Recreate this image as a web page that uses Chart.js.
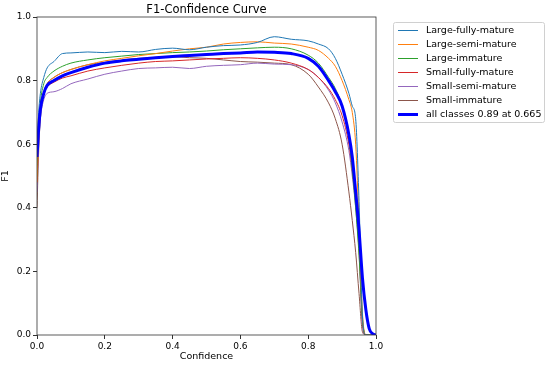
<!DOCTYPE html>
<html>
<head>
<meta charset="utf-8">
<script src="https://cdn.jsdelivr.net/npm/chart.js@4"></script>
<style>
  html, body { margin: 0; padding: 0; background: #fff; }
  #wrap { width: 550px; height: 366px; }
</style>
</head>
<body>
<div id="wrap"><canvas id="f1Chart" width="550" height="366"></canvas></div>
<script>
const confidence = [0, 0.005, 0.01, 0.02, 0.03, 0.05, 0.075, 0.1, 0.15, 0.2, 0.25, 0.3, 0.35, 0.4, 0.45, 0.5, 0.55, 0.6, 0.65, 0.7, 0.75, 0.8, 0.83, 0.86, 0.88, 0.9, 0.92, 0.93, 0.94, 0.95, 0.96, 0.97, 0.98, 0.99, 1.0];

const largeFullyMature = [0.58, 0.70, 0.76, 0.81, 0.84, 0.86, 0.885, 0.887, 0.89, 0.888, 0.892, 0.89, 0.898, 0.902, 0.897, 0.905, 0.91, 0.912, 0.92, 0.938, 0.93, 0.925, 0.915, 0.9, 0.87, 0.82, 0.76, 0.72, 0.68, 0.42, 0.06, 0, 0, 0, 0];
const largeSemiMature = [0.48, 0.62, 0.70, 0.76, 0.79, 0.81, 0.825, 0.835, 0.85, 0.862, 0.87, 0.878, 0.885, 0.893, 0.9, 0.905, 0.915, 0.92, 0.922, 0.918, 0.915, 0.905, 0.895, 0.87, 0.845, 0.8, 0.74, 0.70, 0.60, 0.35, 0.07, 0, 0, 0, 0];
const largeImmature = [0.50, 0.65, 0.73, 0.79, 0.81, 0.83, 0.845, 0.855, 0.865, 0.872, 0.877, 0.882, 0.885, 0.888, 0.89, 0.893, 0.897, 0.9, 0.903, 0.905, 0.9, 0.88, 0.855, 0.81, 0.775, 0.72, 0.62, 0.52, 0.40, 0.25, 0.05, 0, 0, 0, 0];
const smallFullyMature = [0.48, 0.62, 0.70, 0.76, 0.78, 0.795, 0.808, 0.815, 0.83, 0.84, 0.848, 0.855, 0.86, 0.862, 0.865, 0.868, 0.87, 0.872, 0.87, 0.865, 0.855, 0.835, 0.81, 0.775, 0.74, 0.69, 0.60, 0.52, 0.42, 0.28, 0.04, 0, 0, 0, 0];
const smallSemiMature = [0.45, 0.60, 0.68, 0.74, 0.76, 0.765, 0.775, 0.79, 0.805, 0.82, 0.83, 0.838, 0.84, 0.842, 0.838, 0.845, 0.848, 0.85, 0.855, 0.852, 0.85, 0.835, 0.81, 0.77, 0.73, 0.67, 0.58, 0.50, 0.40, 0.26, 0.03, 0, 0, 0, 0];
const smallImmature = [0.40, 0.58, 0.68, 0.76, 0.79, 0.81, 0.825, 0.835, 0.85, 0.857, 0.865, 0.87, 0.873, 0.875, 0.872, 0.87, 0.865, 0.86, 0.858, 0.855, 0.85, 0.82, 0.78, 0.73, 0.68, 0.60, 0.45, 0.36, 0.26, 0.13, 0.01, 0, 0, 0, 0];
const allClasses = [0.56, 0.65, 0.71, 0.76, 0.785, 0.80, 0.815, 0.825, 0.842, 0.855, 0.862, 0.867, 0.872, 0.876, 0.879, 0.882, 0.885, 0.887, 0.89, 0.889, 0.885, 0.87, 0.845, 0.80, 0.765, 0.72, 0.63, 0.56, 0.45, 0.33, 0.18, 0.08, 0.02, 0.004, 0];

const seriesNames = ['Large-fully-mature', 'Large-semi-mature', 'Large-immature', 'Small-fully-mature', 'Small-semi-mature', 'Small-immature', 'all classes 0.89 at 0.665'];
const seriesValues = [largeFullyMature, largeSemiMature, largeImmature, smallFullyMature, smallSemiMature, smallImmature, allClasses];
const seriesColors = ['#1f77b4', '#ff7f0e', '#2ca02c', '#d62728', '#9467bd', '#8c564b', '#0000ff'];
const xTicks = [0, 0.2, 0.4, 0.6, 0.8, 1.0];
const yTicks = [0, 0.2, 0.4, 0.6, 0.8, 1.0];

const FONT = '"DejaVu Sans", sans-serif';

function points(values){
  return values.map((v, i) => ({ x: confidence[i], y: v }));
}

const datasets = seriesValues.map((vals, i) => ({
  label: seriesNames[i],
  data: points(vals),
  borderColor: seriesColors[i],
  borderWidth: i === 6 ? 3 : 1,
  pointRadius: 0,
  cubicInterpolationMode: 'monotone',
  fill: false,
  order: i === 6 ? 0 : 1
}));

// frame, title and legend drawn like matplotlib
const decor = {
  id: 'decor',
  afterDraw(chart){
    const ctx = chart.ctx;
    const a = chart.chartArea;
    ctx.save();
    ctx.strokeStyle = '#333';
    ctx.lineWidth = 0.8;
    ctx.strokeRect(a.left, a.top, a.right - a.left, a.bottom - a.top);

    ctx.fillStyle = '#000';
    ctx.font = '11.5px ' + FONT;
    ctx.textAlign = 'center';
    ctx.textBaseline = 'alphabetic';
    ctx.fillText('F1-Confidence Curve', (a.left + a.right) / 2, 13);

    // legend
    const lx = 393.5, ly = 22.5, lw = 151, lh = 100;
    ctx.strokeStyle = '#d0d0d0';
    ctx.lineWidth = 1;
    ctx.beginPath();
    ctx.roundRect(lx, ly, lw, lh, 2);
    ctx.stroke();
    ctx.font = '9.5px ' + FONT;
    ctx.textAlign = 'left';
    ctx.textBaseline = 'middle';
    chart.data.datasets.forEach((ds, i) => {
      const y = 30.5 + i * 14;
      ctx.strokeStyle = ds.borderColor;
      ctx.lineWidth = ds.borderWidth;
      ctx.beginPath();
      ctx.moveTo(398, y);
      ctx.lineTo(418, y);
      ctx.stroke();
      ctx.fillStyle = '#000';
      ctx.fillText(ds.label, 426, y + 0.5);
    });
    ctx.restore();
  }
};

new Chart(document.getElementById('f1Chart'), {
  type: 'line',
  data: { datasets: datasets },
  options: {
    responsive: false,
    animation: false,
    layout: { padding: { top: 17, right: 174, left: 0, bottom: 0 } },
    plugins: {
      legend: { display: false },
      tooltip: { enabled: false }
    },
    scales: {
      x: {
        type: 'linear',
        min: 0,
        max: 1,
        afterFit(scale){ scale.height = 31; },
        afterBuildTicks(scale){ scale.ticks = xTicks.map(v => ({ value: v })); },
        grid: { drawOnChartArea: false, tickLength: 4, tickColor: '#333' },
        border: { display: false },
        ticks: {
          color: '#000',
          padding: 2,
          maxRotation: 0,
          font: { family: FONT, size: 9 },
          callback: v => v.toFixed(1)
        },
        title: {
          display: true,
          text: 'Confidence',
          color: '#000',
          padding: { top: 0, bottom: 4 },
          font: { family: FONT, size: 9.5 }
        }
      },
      y: {
        type: 'linear',
        min: 0,
        max: 1,
        afterFit(scale){ scale.width = 37; },
        afterBuildTicks(scale){ scale.ticks = yTicks.map(v => ({ value: v })); },
        grid: { drawOnChartArea: false, tickLength: 4, tickColor: '#333' },
        border: { display: false },
        ticks: {
          color: '#000',
          padding: 2,
          font: { family: FONT, size: 9 },
          callback: v => v.toFixed(1)
        },
        title: {
          display: true,
          text: 'F1',
          color: '#000',
          padding: { top: 0, bottom: 0 },
          font: { family: FONT, size: 9.5 }
        }
      }
    }
  },
  plugins: [decor]
});
</script>
</body>
</html>
